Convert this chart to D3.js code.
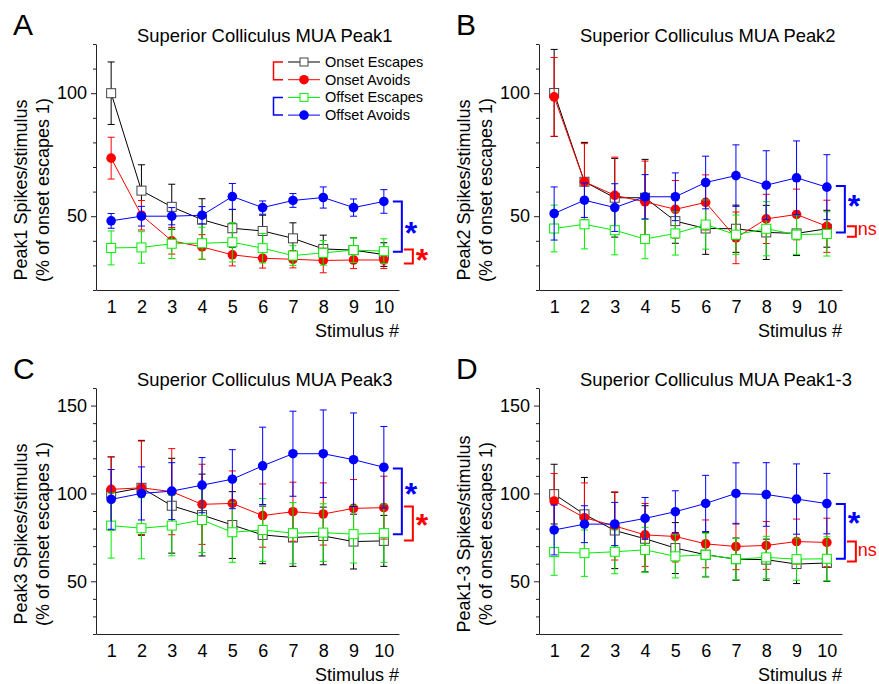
<!DOCTYPE html>
<html>
<head>
<meta charset="utf-8">
<script src="https://cdn.jsdelivr.net/npm/d3@7"></script>
<style>
  body { margin: 0; background: #fff; }
  svg text { font-family: "Liberation Sans", Arial, sans-serif; fill: #000; }
</style>
</head>
<body>
<svg id="chart" width="879" height="684"></svg>
<script>

// ---DATA---//

var stimuli = [1, 2, 3, 4, 5, 6, 7, 8, 9, 10];
var seriesNames = ["Onset Escapes", "Onset Avoids", "Offset Escapes", "Offset Avoids"];

// Peak1
var peak1OnsetEscapes = [100, 60.4, 53.8, 48.6, 45.1, 44, 41, 36.7, 36.2, 34.4];
var peak1OnsetEscapesErr = [12.7, 10.5, 9.2, 8.5, 7.7, 6.4, 6.3, 5.6, 5, 4.8];
var peak1OnsetAvoids = [73.6, 50.4, 40, 37.5, 34.3, 32.9, 32.5, 32, 32.2, 32.2];
var peak1OnsetAvoidsErr = [8.5, 6, 5.4, 5, 4.5, 4, 3.5, 5, 3.5, 3.5];
var peak1OffsetEscapes = [37.1, 37.3, 38.8, 39, 39.4, 37, 34, 35.1, 36.2, 35.8];
var peak1OffsetEscapesErr = [6.9, 6.4, 6, 6.5, 8, 6, 4, 5, 5, 5];
var peak1OffsetAvoids = [48.1, 50, 50, 50.4, 58, 53.5, 56.4, 57.6, 53.5, 56];
var peak1OffsetAvoidsErr = [3, 4, 3.5, 3.5, 5.3, 2.7, 2.8, 4.3, 3.5, 4.8];

// Peak2
var peak2OnsetEscapes = [100.1, 64, 57.5, 57.5, 48, 45, 44.9, 43.4, 43, 44.9];
var peak2OnsetEscapesErr = [17.7, 16, 16, 15.6, 9, 10.5, 9.6, 11, 9, 7.5];
var peak2OnsetAvoids = [98.5, 64, 58.5, 55.8, 52.8, 55.6, 41.2, 48.9, 50.7, 45.9];
var peak2OnsetAvoidsErr = [16, 15.5, 15.5, 16.6, 11.7, 11.2, 10.5, 10, 10.3, 10.6];
var peak2OffsetEscapes = [45, 46.7, 44.3, 40.7, 43, 46.6, 42.5, 44.9, 42.5, 42.8];
var peak2OffsetEscapesErr = [9.5, 10, 10, 8, 8.8, 10, 8, 11, 8, 9];
var peak2OffsetAvoids = [51.1, 56.5, 53.5, 57.9, 57.9, 63.7, 66.5, 62.6, 65.6, 61.8];
var peak2OffsetAvoidsErr = [10.8, 7, 9.7, 9, 9.7, 10.7, 12.5, 14, 15, 13.2];

// Peak3
var peak3OnsetEscapes = [100, 103.2, 93, 87.7, 82, 76.4, 74.9, 75.8, 72.6, 73];
var peak3OnsetEscapesErr = [20.8, 27, 27, 23.3, 19, 16.4, 16.4, 16.4, 15.6, 14.5];
var peak3OnsetAvoids = [102.3, 103.2, 101, 93.8, 94.3, 87.4, 89.6, 88.3, 91.5, 91.9];
var peak3OnsetAvoidsErr = [18.5, 26.6, 24.5, 22.8, 18.5, 18, 16.8, 17.7, 16.4, 17.9];
var peak3OffsetEscapes = [81.7, 80.2, 81.7, 84.9, 77.9, 79.2, 77.4, 77.7, 76.8, 77.4];
var peak3OffsetEscapesErr = [18.5, 17.4, 17.2, 18.5, 17.1, 17.9, 17.4, 16.4, 16.4, 16.6];
var peak3OffsetAvoids = [96.6, 100, 101.3, 104.7, 108.1, 115.7, 122.6, 122.6, 119.2, 114.9];
var peak3OffsetAvoidsErr = [17, 15.1, 16.2, 15.7, 16.8, 22, 24.2, 24.9, 26.6, 23.2];

// Peak1-3
var peak13OnsetEscapes = [99.6, 88.1, 78.9, 74.2, 68.9, 65.1, 62.6, 62.3, 59.8, 60.4];
var peak13OnsetEscapesErr = [17, 21, 21.7, 18.8, 14.5, 12.6, 12, 11.7, 11.1, 10.4];
var peak13OnsetAvoids = [95.7, 86.2, 81.5, 76.4, 75.5, 71.3, 69.8, 70.4, 72.6, 72.1];
var peak13OnsetAvoidsErr = [15.6, 19.8, 19.4, 17.9, 14.5, 13.6, 13.2, 13.6, 12.8, 13.8];
var peak13OffsetEscapes = [66.6, 66, 66.8, 67.9, 64.2, 65.1, 62.6, 63.6, 62.6, 62.8];
var peak13OffsetEscapesErr = [13.2, 13.2, 12.5, 12.8, 12.3, 12.3, 11.7, 12, 12, 12.5];
var peak13OffsetAvoids = [79.2, 82.5, 82.6, 85.8, 89.6, 94.3, 100, 99.4, 96.8, 94.2];
var peak13OffsetAvoidsErr = [14.2, 10.5, 12.3, 11.9, 11.9, 16, 17.4, 18.1, 20, 17.2];

// significance brackets: [top value, bottom value, label, label value]
var peak1Brackets = [[56, 35.5, "*", 44.3], [36.5, 30.8, "*", 33.3]];
var peak2Brackets = [[62.3, 43.4, "*", 55.3], [45.9, 41.6, "ns", 44.3]];
var peak3Brackets = [[114.2, 76.8, "*", 101.5], [92.5, 73.2, "*", 83.9]];
var peak13Brackets = [[94, 62.8, "*", 84.9], [72.6, 61.3, "ns", 67]];

// ---STYLE---//

var seriesColors = ["#000000", "#ff0000", "#00ee00", "#0000ff"];
var seriesFilled = [false, true, false, true];
var bracketColors = ["#0000ff", "#ff0000"];

var panels = [
	{ letter: "A", title: "Superior Colliculus MUA Peak1", label: "Peak1 Spikes/stimulus",
	  left: 96, top: 44, domain: [20, 120],
	  means: [peak1OnsetEscapes, peak1OnsetAvoids, peak1OffsetEscapes, peak1OffsetAvoids],
	  errs: [peak1OnsetEscapesErr, peak1OnsetAvoidsErr, peak1OffsetEscapesErr, peak1OffsetAvoidsErr],
	  brackets: peak1Brackets, legend: true },
	{ letter: "B", title: "Superior Colliculus MUA Peak2", label: "Peak2 Spikes/stimulus",
	  left: 539, top: 44, domain: [20, 120],
	  means: [peak2OnsetEscapes, peak2OnsetAvoids, peak2OffsetEscapes, peak2OffsetAvoids],
	  errs: [peak2OnsetEscapesErr, peak2OnsetAvoidsErr, peak2OffsetEscapesErr, peak2OffsetAvoidsErr],
	  brackets: peak2Brackets, legend: false },
	{ letter: "C", title: "Superior Colliculus MUA Peak3", label: "Peak3 Spikes/stimulus",
	  left: 96, top: 388, domain: [20, 160],
	  means: [peak3OnsetEscapes, peak3OnsetAvoids, peak3OffsetEscapes, peak3OffsetAvoids],
	  errs: [peak3OnsetEscapesErr, peak3OnsetAvoidsErr, peak3OffsetEscapesErr, peak3OffsetAvoidsErr],
	  brackets: peak3Brackets, legend: false },
	{ letter: "D", title: "Superior Colliculus MUA Peak1-3", label: "Peak1-3 Spikes/stimulus",
	  left: 539, top: 388, domain: [20, 160],
	  means: [peak13OnsetEscapes, peak13OnsetAvoids, peak13OffsetEscapes, peak13OffsetAvoids],
	  errs: [peak13OnsetEscapesErr, peak13OnsetAvoidsErr, peak13OffsetEscapesErr, peak13OffsetAvoidsErr],
	  brackets: peak13Brackets, legend: false }
];

var plotWidth = 303;
var plotHeight = 246;

var svg = d3.select("#chart");

panels.forEach(function(p) {
	drawPanel(p);
});

function drawPanel(p) {

	var g = svg.append("g").attr("transform", "translate(" + p.left + "," + p.top + ")");

	var x = d3.scaleLinear().domain([0.5, 10.5]).range([0, plotWidth]);
	var y = d3.scaleLinear().domain(p.domain).range([plotHeight, 0]);

	// panel letter and title
	g.append("text").attr("x", -83).attr("y", -9)
		.attr("font-size", "30px").text(p.letter);
	g.append("text").attr("x", 41).attr("y", -2)
		.attr("font-size", "18.4px").text(p.title);

	// y axis
	var yAxis = d3.axisLeft(y)
		.tickValues(d3.range(p.domain[0], p.domain[1] + 1, 10))
		.tickSizeInner(3).tickSizeOuter(0).tickPadding(6)
		.tickFormat(function(d) { return d % 50 === 0 ? d : ""; });
	var ya = g.append("g").call(yAxis);
	ya.selectAll(".tick line").attr("x2", function(d) { return d % 50 === 0 ? -5 : -3; });
	ya.selectAll("text").attr("font-size", "18px").attr("font-family", "Liberation Sans, Arial, sans-serif");
	ya.selectAll("path, line").attr("stroke", "#222");

	// x axis
	var xAxis = d3.axisBottom(x).tickValues(stimuli).tickSize(0).tickPadding(10);
	var xa = g.append("g").attr("transform", "translate(0," + plotHeight + ")").call(xAxis);
	xa.selectAll("text").attr("font-size", "18px").attr("font-family", "Liberation Sans, Arial, sans-serif");
	xa.selectAll("path").attr("stroke", "#222");

	g.append("text").attr("x", plotWidth).attr("y", plotHeight + 47)
		.attr("text-anchor", "end").attr("font-size", "18px").text("Stimulus #");

	// y axis label, two lines
	var midY = plotHeight / 2 + 23;
	g.append("text").attr("transform", "translate(-69," + midY + ") rotate(-90)")
		.attr("text-anchor", "middle").attr("font-size", "18px").text(p.label);
	g.append("text").attr("transform", "translate(-47," + midY + ") rotate(-90)")
		.attr("text-anchor", "middle").attr("font-size", "18px").text("(% of onset escapes 1)");

	// series
	var line = d3.line()
		.x(function(d) { return x(d.s); })
		.y(function(d) { return y(d.v); });

	seriesNames.forEach(function(name, k) {

		var data = stimuli.map(function(s, i) {
			return { s: s, v: p.means[k][i], e: p.errs[k][i] };
		});
		var color = seriesColors[k];
		var sg = g.append("g").attr("class", "series");

		sg.append("path").datum(data).attr("d", line)
			.attr("fill", "none").attr("stroke", color).attr("stroke-width", 1);

		var eb = sg.selectAll(".err").data(data).enter().append("g").attr("class", "err")
			.attr("stroke", color).attr("stroke-width", 1);
		eb.append("line")
			.attr("x1", function(d) { return x(d.s); }).attr("x2", function(d) { return x(d.s); })
			.attr("y1", function(d) { return y(d.v + d.e); }).attr("y2", function(d) { return y(d.v - d.e); });
		eb.append("line")
			.attr("x1", function(d) { return x(d.s) - 3.5; }).attr("x2", function(d) { return x(d.s) + 3.5; })
			.attr("y1", function(d) { return y(d.v + d.e); }).attr("y2", function(d) { return y(d.v + d.e); });
		eb.append("line")
			.attr("x1", function(d) { return x(d.s) - 3.5; }).attr("x2", function(d) { return x(d.s) + 3.5; })
			.attr("y1", function(d) { return y(d.v - d.e); }).attr("y2", function(d) { return y(d.v - d.e); });

		drawMarkers(sg, data.map(function(d) { return [x(d.s), y(d.v)]; }), k);
	});

	// significance brackets
	var x10 = x(10);
	p.brackets.forEach(function(b, j) {
		var x1 = x10 + 9 + j * 11;
		var x2 = x1 + 9;
		var yTop = y(b[0]), yBot = y(b[1]);
		g.append("path")
			.attr("d", "M" + x1 + "," + yTop + "H" + x2 + "V" + yBot + "H" + x1)
			.attr("fill", "none").attr("stroke", bracketColors[j]).attr("stroke-width", 2);
		var ly = y(b[3]);
		if (b[2] === "*") {
			g.append("text").attr("x", x2 + 3).attr("y", ly + 14)
				.attr("font-size", "32px").attr("font-weight", "bold")
				.style("fill", bracketColors[j]).text("*");
		} else {
			g.append("text").attr("x", x2 + 2).attr("y", ly + 5)
				.attr("font-size", "18px")
				.style("fill", bracketColors[j]).text(b[2]);
		}
	});

	if (p.legend) {
		drawLegend(g);
	}

}// END: drawPanel

function drawMarkers(sel, points, k) {

	var color = seriesColors[k];
	if (seriesFilled[k]) {
		sel.selectAll(".mk").data(points).enter().append("circle")
			.attr("cx", function(d) { return d[0]; })
			.attr("cy", function(d) { return d[1]; })
			.attr("r", 4.8).attr("fill", color);
	} else {
		sel.selectAll(".mk").data(points).enter().append("rect")
			.attr("x", function(d) { return d[0] - 4.5; })
			.attr("y", function(d) { return d[1] - 4.5; })
			.attr("width", 9).attr("height", 9)
			.attr("fill", "#fff").attr("stroke", k === 0 ? "#444" : color).attr("stroke-width", 1);
	}

}// END: drawMarkers

function drawLegend(g) {

	// legend placed relative to panel A origin
	var lx = 192, ly = 18, rowH = 17.7;
	var lg = g.append("g").attr("transform", "translate(" + lx + "," + ly + ")");

	seriesNames.forEach(function(name, k) {
		var yy = k * rowH;
		lg.append("line").attr("x1", 0).attr("x2", 32).attr("y1", yy).attr("y2", yy)
			.attr("stroke", seriesColors[k]).attr("stroke-width", 1);
		var mg = lg.append("g");
		if (seriesFilled[k]) {
			mg.append("circle").attr("cx", 16).attr("cy", yy).attr("r", 4.8).attr("fill", seriesColors[k]);
		} else {
			mg.append("rect").attr("x", 12).attr("y", yy - 4).attr("width", 8).attr("height", 8)
				.attr("fill", "#fff").attr("stroke", k === 0 ? "#444" : seriesColors[k]);
		}
		lg.append("text").attr("x", 37).attr("y", yy + 5).attr("font-size", "14.5px").text(name);
	});

	// group brackets: red for onset pair, blue for offset pair
	[1, 0].forEach(function(c, j) {
		var y1 = j * 2 * rowH, y2 = y1 + rowH;
		lg.append("path").attr("d", "M-5," + y1 + "H-14.5V" + y2 + "H-5")
			.attr("fill", "none").attr("stroke", bracketColors[c]).attr("stroke-width", 1.5);
	});

}// END: drawLegend

</script>
</body>
</html>
